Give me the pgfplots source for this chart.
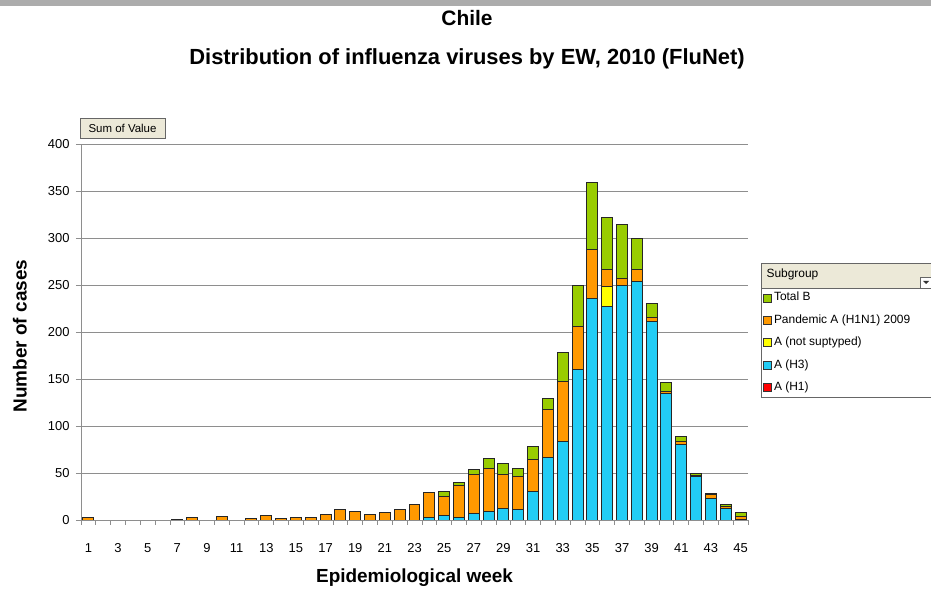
\documentclass[border=0pt]{standalone}
\usepackage{pgfplots}
\pgfplotsset{compat=1.18}
\usepackage{pgfplotstable}
\usepackage{fontspec}
\setmainfont{Liberation Sans}
\definecolor{cB}{HTML}{99CC00}
\definecolor{cPan}{HTML}{FF9900}
\definecolor{cNS}{HTML}{FFFF00}
\definecolor{cH3}{HTML}{22CCF5}
\definecolor{cH1}{HTML}{FF0000}
\definecolor{btn}{HTML}{ECE9D8}
\definecolor{gridc}{HTML}{8E8E8E}

\pgfplotstableread{
week H1 H3 NS Pan B
1 0 0 0 3 0
2 0 0 0 0 0
3 0 0 0 0 0
4 0 0 0 0 0
5 0 0 0 0 0
6 0 0 0 0 0
7 0 0 0 1 0
8 0 0 0 3 0
9 0 0 0 0 0
10 0 0 0 4 0
11 0 0 0 0 0
12 0 0 0 2 0
13 0 0 0 5 0
14 0 0 0 2 0
15 0 0 0 3 0
16 0 0 0 3 0
17 0 0 0 6 0
18 0 0 0 11 0
19 0 0 0 9 0
20 0 0 0 6 0
21 0 0 0 8 0
22 0 0 0 11 0
23 0 0 0 16 0
24 0 3 0 26 0
25 0 5 0 20 5
26 0 3 0 34 3
27 0 7 0 41 6
28 0 9 0 46 10
29 0 12 0 36 12
30 0 11 0 35 9
31 0 30 0 34 14
32 0 67 0 51 11
33 0 83 0 64 31
34 0 160 0 46 44
35 0 236 0 52 71
36 0 227 21 19 55
37 0 250 0 7 57
38 0 254 0 13 32
39 0 211 0 4 15
40 0 135 0 2 9
41 0 80 0 3 6
42 0 46 0 1 3
43 0 23 0 4 1
44 0 12 0 2 3
45 0 1 0 3 4
}\data

\pgfplotsset{sqleg/.style={legend image code/.code={\draw[##1,draw=black!80,line width=0.6bp] (0bp,-4bp) rectangle (8bp,4bp);}}}

\begin{document}
\begin{tikzpicture}
\useasboundingbox (0bp,0bp) rectangle (931bp,589bp);
\fill[gray!65] (0bp,583bp) rectangle (931bp,589bp);
\node[font=\bfseries\fontsize{21}{24}\selectfont] at (467bp,571bp) {Chile};
\node[font=\bfseries\fontsize{22}{25}\selectfont] at (467bp,530bp) {Distribution of influenza viruses by EW, 2010 (FluNet)};
\begin{axis}[
  at={(81bp,69bp)}, anchor=south west,
  scale only axis, width=667bp, height=376bp,
  ybar stacked, bar width=0.74,
  xmin=0.5, xmax=45.5, ymin=0, ymax=400,
  xtick={1,3,...,45},
  minor xtick={0.5,1.5,...,45.5},
  ytick={0,50,...,400},
  minor ytick={0,50,...,400},
  major tick length=0pt, minor tick length=5bp,
  tick align=outside,
  tick style={draw=gridc, line width=0.8bp},
  axis x line*=bottom, axis y line*=left,
  axis line style={draw=gridc, line width=1bp},
  ymajorgrids, grid style={draw=gridc, line width=1bp},
  /pgf/number format/assume math mode=true,
  tick label style={font=\fontsize{13}{15}\selectfont},
  xticklabel style={yshift=-20bp},
  yticklabel style={xshift=-8bp},
  label style={font=\bfseries\fontsize{19}{22}\selectfont},
  xlabel={Epidemiological week},
  ylabel={Number of cases},
  xlabel style={at={(axis description cs:0.5,-0.154)}, anchor=center},
  ylabel style={at={(axis description cs:-0.0915,0.489)}, anchor=center},
  reverse legend,
  legend cell align=left,
  legend style={at={(axis description cs:1.0195,0.617)}, anchor=north west,
    draw=gray!80!black, line width=0.8bp, fill=white,
    font=\fontsize{12}{14}\selectfont,
    inner xsep=2bp, inner ysep=1.5bp,
    nodes={inner sep=2bp, text height=9bp, text depth=3bp},
    row sep=6.4bp},
  every axis plot/.append style={draw=black!85, line width=1bp, sqleg},
]
\addplot[fill=cH1] table[x=week,y=H1] \data; \addlegendentry{\makebox[160bp][l]{A (H1)}}
\addplot[fill=cH3] table[x=week,y=H3] \data; \addlegendentry{A (H3)}
\addplot[fill=cNS] table[x=week,y=NS] \data; \addlegendentry{A (not suptyped)}
\addplot[fill=cPan] table[x=week,y=Pan] \data; \addlegendentry{Pandemic A (H1N1) 2009}
\addplot[fill=cB] table[x=week,y=B] \data; \addlegendentry{Total B}
\end{axis}
% Subgroup header
\draw[fill=btn, draw=gray!80!black, line width=0.8bp] (761bp,301bp) rectangle (940bp,326bp);
\node[anchor=west, font=\fontsize{12}{14}\selectfont] at (763bp,314.5bp) {Subgroup};
\draw[fill=white, draw=gray!80!black, line width=0.6bp] (920bp,301bp) rectangle (932bp,312bp);
\fill[black!80] (923bp,308bp) -- (929bp,308bp) -- (926bp,305bp) -- cycle;
% Sum of Value button
\draw[fill=btn, draw=gray!80!black, line width=0.8bp] (80bp,451bp) rectangle (165bp,471bp);
\node[font=\fontsize{11.5}{13}\selectfont] at (122.5bp,461bp) {Sum of Value};
\end{tikzpicture}
\end{document}
